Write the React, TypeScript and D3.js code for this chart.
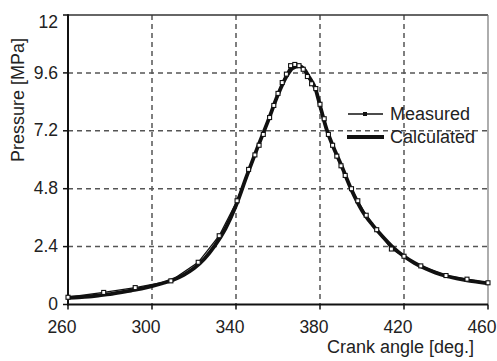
import React from "react";
import * as d3 from "d3";

const calcAngle = [260,265,270,275,280,285,290,295,300,305,310,315,320,325,330,335,340,345,350,355,360,364,367,370,372,375,378,380,383,386,390,395,400,405,410,415,420,425,430,435,440,445,450,455,460];
const calcPressure = [0.28,0.30,0.33,0.38,0.43,0.50,0.58,0.66,0.76,0.88,1.02,1.22,1.5,1.9,2.45,3.15,4.1,5.3,6.45,7.55,8.7,9.45,9.8,9.88,9.8,9.4,8.9,8.25,7.3,6.6,5.8,4.75,3.9,3.3,2.8,2.35,2.0,1.72,1.5,1.32,1.18,1.08,1.0,0.94,0.88];

const measAngle = [260,277,292,309,322,332,340.5,346,349,351,353,356,358,360,362,364,366,368,370,372,374,376,378,380,382,384,386,388,390,392,395,398,402,407,414,420,428,440,450,460];
const measPressure = [0.3,0.5,0.7,0.98,1.75,2.85,4.3,5.6,6.2,6.6,7.05,7.75,8.25,8.75,9.2,9.55,9.9,9.95,9.9,9.75,9.45,9.15,8.95,8.3,7.7,7.05,6.6,6.15,5.75,5.35,4.8,4.3,3.7,3.1,2.3,2.0,1.6,1.2,1.05,0.9];

const xTicks = [260, 300, 340, 380, 420, 460];
const yTicks = [0, 2.4, 4.8, 7.2, 9.6, 12];
const yTickLabels = ["0", "2.4", "4.8", "7.2", "9.6", "12"];

const W = 497, H = 361;
const left = 68, right = 488, top = 15, bottom = 304.5;

export default function App() {
  const x = d3.scaleLinear().domain([260, 460]).range([left, right]);
  const y = d3.scaleLinear().domain([0, 12]).range([bottom, top]);
  const calc = calcAngle.map((a, i) => [a, calcPressure[i]] as [number, number]);
  const meas = measAngle.map((a, i) => [a, measPressure[i]] as [number, number]);
  const line = d3.line<[number, number]>().x(d => x(d[0])).y(d => y(d[1])).curve(d3.curveMonotoneX);
  const mline = d3.line<[number, number]>().x(d => x(d[0])).y(d => y(d[1]));
  const font = "'Liberation Sans', Arial, Helvetica, sans-serif";
  const grid = "#555";
  return (
    <svg width={W} height={H} style={{ position: "absolute", left: 0, top: 0, background: "#fff" }} fontFamily={font}>
      <rect x={0} y={0} width={W} height={H} fill="#fff" />
      {xTicks.slice(1, -1).map(t => (
        <line key={"gx" + t} x1={x(t)} x2={x(t)} y1={top} y2={bottom} stroke={grid} strokeWidth={1.5} strokeDasharray="5,4" />
      ))}
      {yTicks.slice(1, -1).map(t => (
        <line key={"gy" + t} x1={left} x2={right} y1={y(t)} y2={y(t)} stroke={grid} strokeWidth={1.5} strokeDasharray="5,4" />
      ))}
      <line x1={left} x2={right} y1={top} y2={top} stroke="#333" strokeWidth={1.5} />
      <line x1={right} x2={right} y1={top} y2={bottom} stroke="#777" strokeWidth={1.2} />
      <line x1={left} x2={left} y1={top - 0.7} y2={bottom + 1} stroke="#111" strokeWidth={2} />
      <line x1={left - 1} x2={right} y1={bottom} y2={bottom} stroke="#111" strokeWidth={2} />
      {yTicks.map(t => (
        <line key={"ty" + t} x1={left - 5} x2={left} y1={y(t)} y2={y(t)} stroke="#111" strokeWidth={1.5} />
      ))}
      {xTicks.map(t => (
        <line key={"tx" + t} x1={x(t)} x2={x(t)} y1={bottom} y2={bottom + 5} stroke="#111" strokeWidth={1.5} />
      ))}
      {yTicks.map((t, i) => (
        <text key={"ly" + t} x={left - 10} y={y(t) + (t === 12 ? 8 : 1)} textAnchor="end" dominantBaseline="middle" fontSize={17.5} fill="#222">{yTickLabels[i]}</text>
      ))}
      {xTicks.map(t => (
        <text key={"lx" + t} x={x(t) - 6} y={333} textAnchor="middle" fontSize={17.5} fill="#222">{t}</text>
      ))}
      <text x={474} y={353} textAnchor="end" fontSize={18} fill="#222">Crank angle [deg.]</text>
      <text transform={`translate(24,100) rotate(-90)`} textAnchor="middle" fontSize={18} fill="#222">Pressure [MPa]</text>
      <path d={line(calc) || ""} fill="none" stroke="#111" strokeWidth={3.8} strokeLinejoin="round" />
      <path d={mline(meas) || ""} fill="none" stroke="#111" strokeWidth={1.3} />
      {meas.map((d, i) => (
        <rect key={"m" + i} x={x(d[0]) - 2} y={y(d[1]) - 2} width={4} height={4} fill="#fff" stroke="#111" strokeWidth={1.1} />
      ))}
      <line x1={348} x2={383} y1={114} y2={114} stroke="#111" strokeWidth={1.5} />
      <rect x={363} y={112} width={4} height={4} fill="#111" />
      <text x={390} y={120} fontSize={18} fill="#222">Measured</text>
      <line x1={347} x2={384} y1={137} y2={137} stroke="#111" strokeWidth={3.8} />
      <text x={390} y={143} fontSize={18} fill="#222">Calculated</text>
    </svg>
  );
}
